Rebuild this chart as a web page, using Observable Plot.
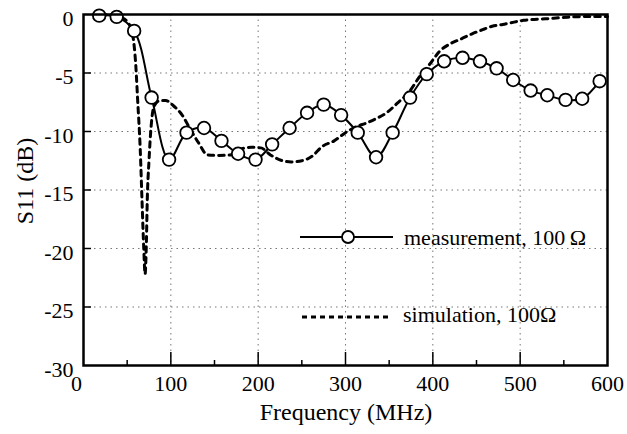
<!DOCTYPE html>
<html><head><meta charset="utf-8">
<script src="https://cdn.jsdelivr.net/npm/d3@7"></script>
<script src="https://cdn.jsdelivr.net/npm/@observablehq/plot@0.6"></script>
<style>
body{margin:0;background:#fff}
#chart svg{display:block}
</style>
</head><body><div id="chart"></div>
<script>
const measFreq = [18, 38, 58, 78, 98, 118, 138, 158, 177, 197, 216, 236, 256, 275, 295, 314, 335, 354, 374, 393, 413, 434, 454, 473, 492, 512, 531, 552, 571, 591];
const measS11 = [-0.1, -0.2, -1.4, -7.1, -12.4, -10.1, -9.7, -10.8, -11.9, -12.4, -11.1, -9.7, -8.4, -7.7, -8.6, -10.1, -12.2, -10.1, -7.1, -5.1, -4.0, -3.7, -4.0, -4.6, -5.6, -6.5, -6.9, -7.3, -7.2, -5.7];
const simFreq = [20, 35, 45, 50, 54, 56, 60, 62, 65, 67, 69, 70.5, 72, 73, 75, 77.5, 81, 88, 94, 103, 113, 123, 132, 142, 155, 168, 180, 192, 203, 214, 228, 238, 250, 262, 273, 287, 300, 312, 323, 335, 348, 359, 373, 384, 398, 407, 420, 432, 445, 457, 468, 480, 493, 504, 529, 554, 577, 600];
const simS11 = [0, -0.05, -0.3, -0.6, -1.1, -1.6, -4.5, -7.3, -11.6, -15.9, -20, -22.2, -19.5, -15.9, -12.5, -9.5, -7.8, -7.35, -7.35, -7.8, -8.6, -9.9, -11.0, -12.0, -12.05, -12.0, -11.5, -11.35, -11.4, -12.0, -12.5, -12.6, -12.5, -12.1, -11.3, -10.8, -10.1, -9.6, -9.3, -8.9, -8.35, -7.6, -6.6, -5.4, -4.1, -3.2, -2.5, -2.1, -1.65, -1.3, -1.0, -0.85, -0.65, -0.5, -0.37, -0.23, -0.17, -0.17];
const xTicks = [0, 100, 200, 300, 400, 500, 600];
const xMinorTicks = [50, 150, 250, 350, 450, 550];
const yTicks = [0, -5, -10, -15, -20, -25, -30];
const gridXTicks = [100, 200, 300, 400, 500];
const gridYTicks = [-5, -10, -15, -20, -25];
const legendLabels = ["measurement, 100\u2009\u03A9", "simulation, 100\u03A9"];
const xTitle = "Frequency (MHz)";
const yTitle = "S11 (dB)";

const meas = measFreq.map((f, i) => ({f, s: measS11[i]}));
const sim = simFreq.map((f, i) => ({f, s: simS11[i]}));

const W = 627, H = 434, mL = 83, mT = 14, mR = 20, mB = 69;
const serifFont = "Liberation Serif";
const fmt = d => String(d);

const plot = Plot.plot({
  width: W, height: H, marginLeft: mL, marginTop: mT, marginRight: mR, marginBottom: mB,
  style: {fontFamily: serifFont, fontSize: "22px", background: "white", color: "black", overflow: "visible"},
  x: {domain: [0, 600], label: null},
  y: {domain: [-30, 0], label: null},
  marks: [
    Plot.gridX(gridXTicks, {stroke: "#777", strokeOpacity: 1, strokeWidth: 1, strokeDasharray: "1.5,4"}),
    Plot.gridY(gridYTicks, {stroke: "#777", strokeOpacity: 1, strokeWidth: 1, strokeDasharray: "1.5,4"}),
    Plot.line(sim, {x: "f", y: "s", curve: "monotone-x", stroke: "black", strokeWidth: 3, strokeDasharray: "5.5,5"}),
    Plot.line(meas, {x: "f", y: "s", curve: "catmull-rom", stroke: "black", strokeWidth: 2}),
    Plot.dot(meas, {x: "f", y: "s", r: 6.3, stroke: "black", strokeWidth: 1.8, fill: "white"}),
    Plot.axisX(xTicks.slice(1), {tickSize: 0, tickPadding: 10, tickFormat: fmt, label: null, fontSize: 22}),
    Plot.axisX(xTicks.slice(0, 1), {tickSize: 0, tickPadding: 10, dx: -7, tickFormat: fmt, label: null, fontSize: 22}),
    Plot.axisX(gridXTicks, {tickSize: -13, text: null, strokeWidth: 1.5, label: null}),
    Plot.axisX(xMinorTicks, {tickSize: -5, text: null, strokeWidth: 1.5, label: null}),
    Plot.axisY(yTicks, {tickSize: 0, tickPadding: 10, dy: 4, tickFormat: fmt, label: null, fontSize: 22}),
    Plot.axisY(gridYTicks, {tickSize: -8, text: null, strokeWidth: 1.5, label: null}),
    Plot.frame({stroke: "black", strokeWidth: 2.5})
  ]
});
document.getElementById("chart").append(plot);

const svg = d3.select(plot);
const g = svg.append("g").attr("fill", "black").attr("text-anchor", "start");
// legend
g.append("line").attr("x1", 300).attr("x2", 393).attr("y1", 237).attr("y2", 237)
  .attr("stroke", "black").attr("stroke-width", 2);
g.append("circle").attr("cx", 348).attr("cy", 237).attr("r", 6).attr("fill", "white")
  .attr("stroke", "black").attr("stroke-width", 1.8);
g.append("text").attr("x", 404).attr("y", 245).attr("font-size", 22).text(legendLabels[0]);
g.append("line").attr("x1", 302).attr("x2", 392).attr("y1", 317).attr("y2", 317)
  .attr("stroke", "black").attr("stroke-width", 3).attr("stroke-dasharray", "5,4");
g.append("text").attr("x", 403).attr("y", 322).attr("font-size", 22).text(legendLabels[1]);
// titles
g.append("text").attr("x", 346).attr("y", 420).attr("font-size", 24).attr("text-anchor", "middle").text(xTitle);
g.append("text").attr("transform", "translate(33,181) rotate(-90)").attr("font-size", 24)
  .attr("text-anchor", "middle").text(yTitle);
svg.selectAll("text").attr("font-family", serifFont);
</script>
</body></html>
